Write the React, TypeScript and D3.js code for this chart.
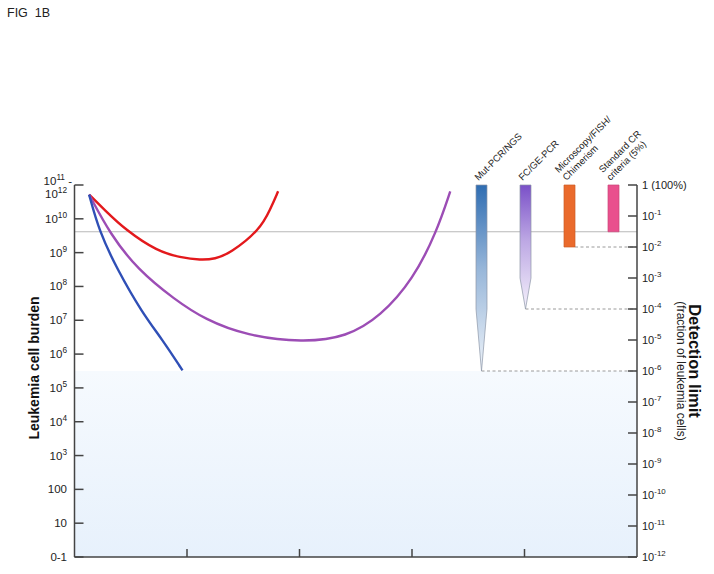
import React, { useEffect } from 'react'
import * as d3 from 'd3'

// course of the disease: time (arbitrary units) and leukemia cell burden
const redTime = [0.13, 0.27, 0.45, 0.74, 0.94, 1.12, 1.25, 1.38, 1.65, 1.74, 1.81]
const redBurden = [5.2e10, 1.8e10, 4.8e9, 1.07e9, 7.2e8, 6.0e8, 6.5e8, 9.4e8, 4.8e9, 1.9e10, 6.5e10]

const purpleTime = [0.13, 0.32, 0.56, 0.89, 1.16, 1.53, 2.03, 2.42, 2.72, 3.01, 3.22, 3.34]
const purpleBurden = [5.2e10, 3.4e9, 3.2e8, 4.1e7, 1.05e7, 3.5e6, 2.2e6, 3.2e6, 1.3e7, 1.6e8, 4.2e9, 6.5e10]

const blueTime = [0.13, 0.22, 0.38, 0.6, 0.78, 0.96]
const blueBurden = [5.2e10, 4.2e9, 3.2e8, 1.7e7, 2.7e6, 3.3e5]

const xTicks = [1, 2, 3, 4]

const leftTickValues = [1, 10, 1e2, 1e3, 1e4, 1e5, 1e6, 1e7, 1e8, 1e9, 1e10, 1e11]
const leftTickLabels = ['0-1', '10', '100', '10^3', '10^4', '10^5', '10^6', '10^7', '10^8', '10^9', '10^10', '10^11 -|10^12']

const rightTickValues = [1, 1e-1, 1e-2, 1e-3, 1e-4, 1e-5, 1e-6, 1e-7, 1e-8, 1e-9, 1e-10, 1e-11, 1e-12]
const rightTickLabels = ['1 (100%)', '10^-1', '10^-2', '10^-3', '10^-4', '10^-5', '10^-6', '10^-7', '10^-8', '10^-9', '10^-10', '10^-11', '10^-12']

// detection methods
const methods = ['Mut-PCR/NGS', 'FC/GE-PCR', 'Microscopy/FISH/|Chimerism', 'Standard CR|criteria (5%)']
const methodLimits = [1e-6, 1e-4, 1e-2, 0.031]
const methodTaper = [1e-4, 1e-3, null, null]
const methodColors = ['#2f6db2', '#7a50c8', '#ea6a2c', '#e9508d']

const crThreshold = 0.031
const shadeLimit = 1e-6

const W = 714
const H = 574
const FONT = 'Arial, "Liberation Sans", Helvetica, sans-serif'

const left = 74.5
const right = 637
const top = 185
const bottom = 557

const xScale = d3.scaleLinear().domain([0, 5]).range([left, right])
const yLeft = d3.scaleLog().domain([1, 1e11]).range([bottom, top])
const yRight = d3.scaleLog().domain([1e-12, 1]).range([bottom, top])
const methodX = d3.scalePoint<string>().domain(methods).range([481.5, 613.5])

const line = d3
  .line<[number, number]>()
  .x(d => xScale(d[0]))
  .y(d => yLeft(d[1]))
  .curve(d3.curveBasis)

const zip = (a: number[], b: number[]) => a.map((v, i) => [v, b[i]] as [number, number])

const curves = [
  { data: zip(redTime, redBurden), color: '#e3191c' },
  { data: zip(purpleTime, purpleBurden), color: '#9c4db5' },
  { data: zip(blueTime, blueBurden), color: '#2f4fb6' }
]

// "10^3" -> 10 with superscript 3
const Label = ({ text, x, y, anchor, size = 11 }: any) => {
  const m = text.match(/^(.*?)\^(\S+)(.*)$/)
  if (!m) {
    return (
      <text x={x} y={y} textAnchor={anchor} fontSize={size} fill='#222'>
        {text}
      </text>
    )
  }
  return (
    <text x={x} y={y} textAnchor={anchor} fontSize={size} fill='#222'>
      {m[1]}
      <tspan dy={-5} fontSize={size * 0.72}>
        {m[2]}
      </tspan>
      {m[3] ? <tspan dy={5}>{m[3]}</tspan> : null}
    </text>
  )
}

const App = () => {
  useEffect(() => {
    document.body.style.margin = '0'
  }, [])

  const tickColor = '#444'

  return (
    <svg width={W} height={H} style={{ display: 'block', fontFamily: FONT }}>
      <defs>
        <linearGradient id='shade' x1='0' y1='0' x2='0' y2='1'>
          <stop offset='0' stopColor='#f6fafe' />
          <stop offset='1' stopColor='#e7f1fc' />
        </linearGradient>
        {methods.map((m, i) => (
          <linearGradient key={m} id={'bar' + i} x1='0' y1='0' x2='0' y2='1'>
            <stop offset='0' stopColor={methodColors[i]} />
            <stop offset='0.45' stopColor={d3.interpolateRgb(methodColors[i], '#ffffff')(0.5)} />
            <stop offset='1' stopColor={d3.interpolateRgb(methodColors[i], '#ffffff')(0.92)} />
          </linearGradient>
        ))}
      </defs>

      <text x={7} y={17} fontSize={12.5} fill='#222' style={{ whiteSpace: 'pre' }}>
        FIG  1B
      </text>

      {/* region below the detection limit */}
      <rect
        x={left}
        y={yRight(shadeLimit)}
        width={right - left}
        height={bottom - yRight(shadeLimit)}
        fill='url(#shade)'
      />

      {/* standard CR threshold */}
      <line
        x1={left}
        x2={right}
        y1={yRight(crThreshold)}
        y2={yRight(crThreshold)}
        stroke='#b9b9b9'
        strokeWidth={1.2}
      />

      {curves.map(c => (
        <path key={c.color} d={line(c.data) || ''} fill='none' stroke={c.color} strokeWidth={2.4} />
      ))}

      {/* detection method bars */}
      {methods.map((m, i) => {
        const cx = methodX(m) as number
        const x0 = cx - 5.5
        const x1 = cx + 5.5
        const y0 = yRight(1)
        const yLim = yRight(methodLimits[i])
        const taper = methodTaper[i]
        let d
        if (taper) {
          const yT = yRight(taper)
          d = `M${x0},${y0}L${x1},${y0}L${x1},${yT}L${cx},${yLim}L${x0},${yT}Z`
        } else {
          d = `M${x0},${y0}L${x1},${y0}L${x1},${yLim}L${x0},${yLim}Z`
        }
        const endX = taper ? cx : x1
        return (
          <g key={m}>
            {methodLimits[i] !== crThreshold && (
              <line
                x1={endX}
                x2={right}
                y1={yLim}
                y2={yLim}
                stroke='#9a9a9a'
                strokeWidth={1}
                strokeDasharray='3,2.5'
              />
            )}
            <path
              d={d}
              fill={taper ? `url(#bar${i})` : methodColors[i]}
              stroke={taper ? '#8d97a8' : d3.color(methodColors[i])!.darker(0.4).toString()}
              strokeWidth={0.7}
            />
            <text
              transform={`translate(${cx - 3},${181}) rotate(-45)`}
              fontSize={9.5}
              fill='#222'
            >
              {m.split('|').map((ln, j, arr) => (
                <tspan key={j} x={0} y={(j - (arr.length - 1)) * 11}>
                  {ln}
                </tspan>
              ))}
            </text>
          </g>
        )
      })}

      {/* axes */}
      <g stroke={tickColor} strokeWidth={1.5}>
        <line x1={left} x2={left} y1={top} y2={bottom} />
        <line x1={right} x2={right} y1={top} y2={bottom} />
        <line x1={left} x2={right} y1={bottom} y2={bottom} />
        {leftTickValues.map(v => (
          <line key={v} x1={left} x2={left + 9} y1={yLeft(v)} y2={yLeft(v)} />
        ))}
        {rightTickValues.map(v => (
          <line key={v} x1={right - 9} x2={right} y1={yRight(v)} y2={yRight(v)} />
        ))}
        {xTicks.map(v => (
          <line key={v} x1={xScale(v)} x2={xScale(v)} y1={bottom} y2={bottom - 8} />
        ))}
      </g>

      {leftTickValues.map((v, i) => {
        const parts = leftTickLabels[i].split('|')
        const y = yLeft(v)
        if (parts.length > 1) {
          return (
            <g key={v}>
              <Label text={parts[0]} x={72} y={y} anchor='end' size={11.5} />
              <Label text={parts[1]} x={67} y={y + 13} anchor='end' size={11.5} />
            </g>
          )
        }
        return <Label key={v} text={parts[0]} x={67} y={y + 4} anchor='end' size={11.5} />
      })}

      {rightTickValues.map((v, i) => (
        <Label key={v} text={rightTickLabels[i]} x={642} y={yRight(v) + 4} anchor='start' />
      ))}

      <text
        transform={`translate(39,368) rotate(-90)`}
        textAnchor='middle'
        fontSize={14}
        fontWeight='bold'
        fill='#111'
      >
        Leukemia cell burden
      </text>
      <text
        transform={`translate(689,361) rotate(90)`}
        textAnchor='middle'
        fontSize={16.5}
        fontWeight='bold'
        fill='#111'
      >
        Detection limit
      </text>
      <text
        transform={`translate(677,371) rotate(90)`}
        textAnchor='middle'
        fontSize={12}
        fill='#222'
      >
        (fraction of leukemia cells)
      </text>
    </svg>
  )
}

export default App
